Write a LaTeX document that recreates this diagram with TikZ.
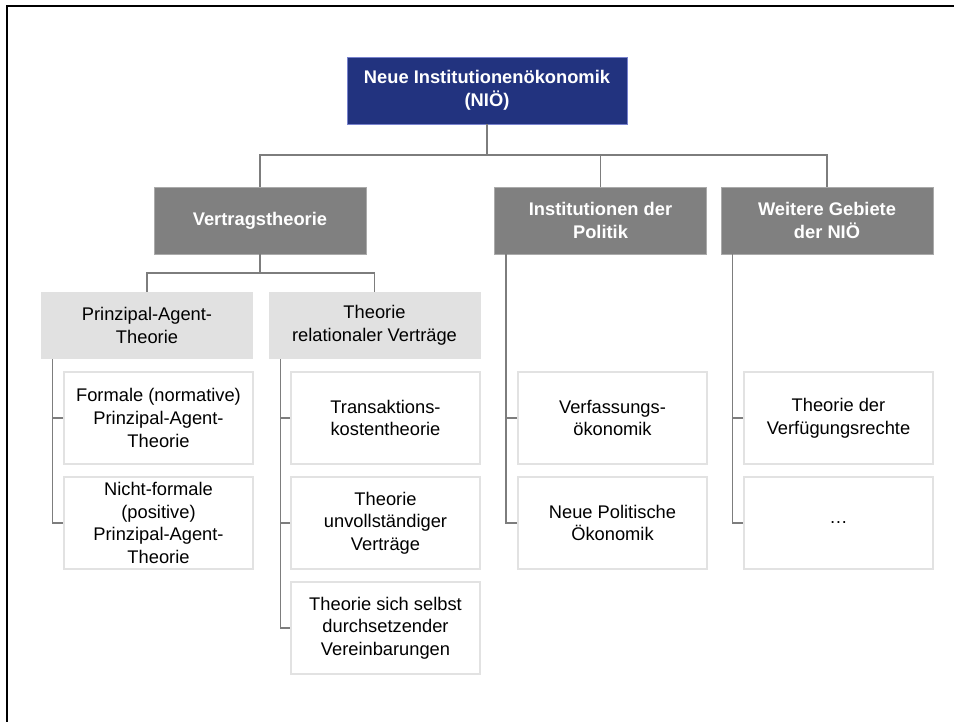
\documentclass[tikz,border=0pt]{standalone}
\usepackage{fontspec}
\setmainfont{Liberation Sans}
\definecolor{nioblue}{RGB}{34,51,127}
\definecolor{nioedge}{RGB}{120,130,205}
\definecolor{catgray}{RGB}{128,128,128}
\definecolor{catedge}{RGB}{170,170,170}
\definecolor{subgray}{RGB}{225,225,225}
\definecolor{leafedge}{RGB}{226,226,226}
\definecolor{linkgray}{RGB}{125,125,125}
\begin{document}
\begin{tikzpicture}[x=1pt,y=-1pt,
  base/.style={align=center, inner sep=0pt, font=\fontsize{18.3}{22.7}\selectfont},
  rootbox/.style={base, fill=nioblue, draw=nioedge, line width=0.8pt, text=white,
    font=\fontsize{18.3}{23}\selectfont\bfseries, minimum width=280pt, minimum height=67pt},
  catbox/.style={base, fill=catgray, draw=catedge, line width=0.8pt, text=white,
    font=\fontsize{18.3}{23}\selectfont\bfseries, minimum width=212pt, minimum height=67pt},
  subbox/.style={base, fill=subgray, minimum width=212pt, minimum height=67pt},
  leafbox/.style={base, fill=white, draw=leafedge, line width=1.6pt,
    minimum width=189pt, minimum height=92pt},
  link/.style={draw=linkgray, line width=1.3pt}
]
\useasboundingbox (0,0) rectangle (954,722);

% frame
\draw[line width=2pt] (7,722) -- (7,6) -- (954,6);

% boxes
\node[rootbox] (nio) at (487,90.5) {Neue Institutionenökonomik\\(NIÖ)};
\node[catbox] (vt) at (260,220.5) {Vertragstheorie};
\node[catbox] (ip) at (600.5,220.5) {Institutionen der\\Politik};
\node[catbox] (wg) at (827,220.5) {Weitere Gebiete\\der NIÖ};

\node[subbox] (pa) at (147,325.5) {Prinzipal-Agent-\\Theorie};
\node[subbox] (trv) at (374.5,325.5) {Theorie\\relationaler Verträge};

\node[leafbox] (pa1) at (158.5,418) {Formale (normative)\\Prinzipal-Agent-\\Theorie};
\node[leafbox] (pa2) at (158.5,523) {Nicht-formale\\(positive)\\Prinzipal-Agent-\\Theorie};

\node[leafbox] (trv1) at (385.5,418) {Transaktions-\\kostentheorie};
\node[leafbox] (trv2) at (385.5,523) {Theorie\\unvollständiger\\Verträge};
\node[leafbox] (trv3) at (385.5,628) {Theorie sich selbst\\durchsetzender\\Vereinbarungen};

\node[leafbox] (ip1) at (612.5,418) {Verfassungs-\\ökonomik};
\node[leafbox] (ip2) at (612.5,523) {Neue Politische\\Ökonomik};

\node[leafbox] (wg1) at (838.5,418) {Theorie der\\Verfügungsrechte};
\node[leafbox] (wg2) at (838.5,523) {\dots};

% top level connectors
\coordinate (busA) at (487,155);
\draw[link] (nio.south) -- (busA);
\draw[link] (vt.north) |- (busA) -| (wg.north);
\draw[link] (ip.north) -- (ip.north |- busA);

% Vertragstheorie to its two branches
\coordinate (busB) at (260,273);
\draw[link] (vt.south) -- (busB);
\draw[link] (pa.north) |- (busB) -| (trv.north);

% side spines to the leaf boxes
\coordinate (paS) at ([xshift=12pt]pa.south west);
\draw[link] (paS) |- (pa2.west);
\draw[link] (pa1.west) -- (pa1.west -| paS);

\coordinate (trvS) at ([xshift=12pt]trv.south west);
\draw[link] (trvS) |- (trv3.west);
\draw[link] (trv1.west) -- (trv1.west -| trvS);
\draw[link] (trv2.west) -- (trv2.west -| trvS);

\coordinate (ipS) at ([xshift=12pt]ip.south west);
\draw[link] (ipS) |- (ip2.west);
\draw[link] (ip1.west) -- (ip1.west -| ipS);

\coordinate (wgS) at ([xshift=12pt]wg.south west);
\draw[link] (wgS) |- (wg2.west);
\draw[link] (wg1.west) -- (wg1.west -| wgS);
\end{tikzpicture}
\end{document}
